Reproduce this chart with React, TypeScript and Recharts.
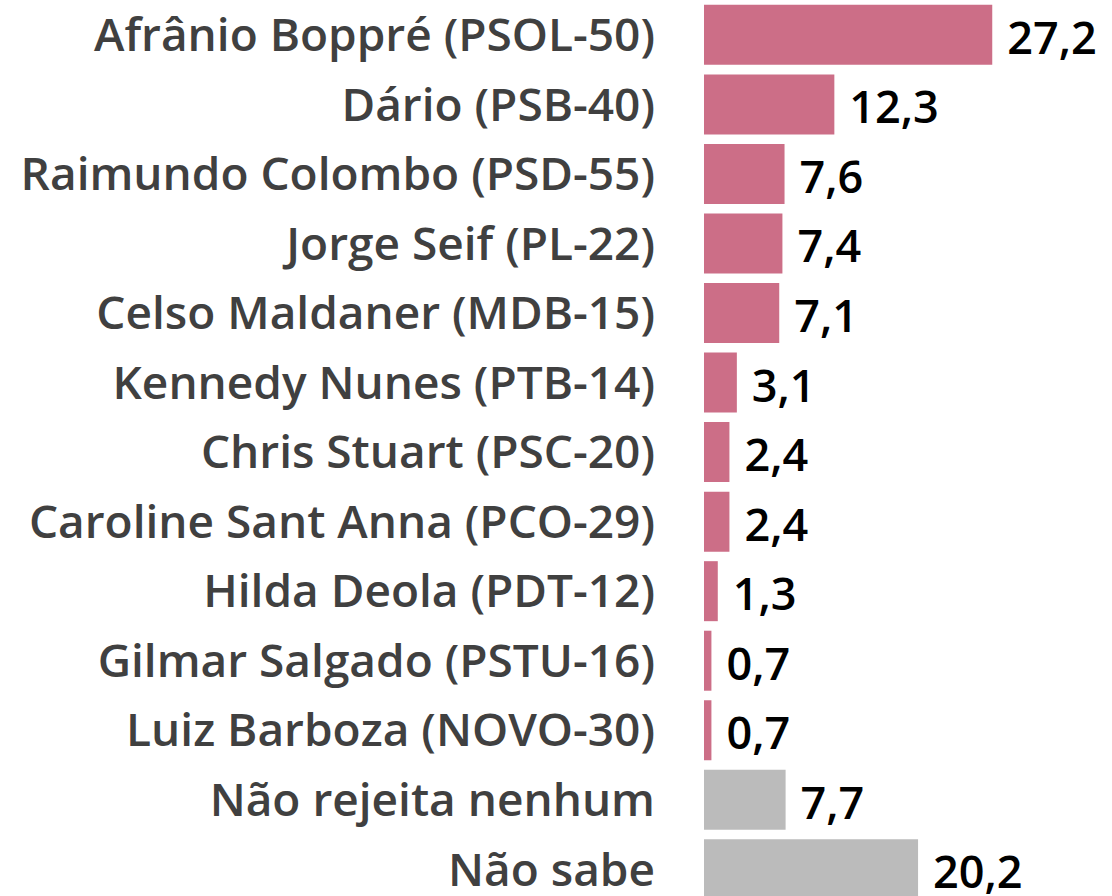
// Rejeição de candidatos: barras horizontais com rótulos à direita.
import { Bar, BarChart, Cell, LabelList, XAxis, YAxis } from "recharts";

const CANDIDATES = [
  "Afrânio Boppré (PSOL-50)",
  "Dário (PSB-40)",
  "Raimundo Colombo (PSD-55)",
  "Jorge Seif (PL-22)",
  "Celso Maldaner (MDB-15)",
  "Kennedy Nunes (PTB-14)",
  "Chris Stuart (PSC-20)",
  "Caroline Sant Anna (PCO-29)",
  "Hilda Deola (PDT-12)",
  "Gilmar Salgado (PSTU-16)",
  "Luiz Barboza (NOVO-30)",
  "Não rejeita nenhum",
  "Não sabe",
];
const VALUES = [27.2, 12.3, 7.6, 7.4, 7.1, 3.1, 2.4, 2.4, 1.3, 0.7, 0.7, 7.7, 20.2];
const OTHER = ["Não rejeita nenhum", "Não sabe"];

const PINK = "#cc6e87";
const GREY = "#bbbbbb";
const FONT = "'Open Sans', 'Noto Sans', sans-serif";

const data = CANDIDATES.map((name, i) => ({ name, value: VALUES[i] }));

export default function App() {
  return (
    <div style={{ position: "absolute", left: 0, top: 0, width: 1112, height: 896, overflow: "hidden", background: "#fff" }}>
      <BarChart
        width={1112}
        height={904}
        data={data}
        layout="vertical"
        margin={{ top: 0, right: 0, bottom: 0, left: 0 }}
        barCategoryGap="7%"
      >
        <XAxis type="number" domain={[0, 38.5]} hide />
        <YAxis
          type="category"
          dataKey="name"
          width={704}
          axisLine={false}
          tickLine={false}
          tickSize={0}
          tickMargin={49}
          interval={0}
          tick={{ fill: "#404040", fontSize: 46, fontWeight: 600, fontFamily: FONT }}
        />
        <Bar dataKey="value" isAnimationActive={false}>
          {data.map((d) => (
            <Cell key={d.name} fill={OTHER.includes(d.name) ? GREY : PINK} />
          ))}
          <LabelList
            dataKey="value"
            position="right"
            offset={15}
            dy={3}
            formatter={(v: number) => String(v).replace(".", ",")}
            style={{ fill: "#000", fontSize: 45, fontWeight: 600, fontFamily: FONT }}
          />
        </Bar>
      </BarChart>
    </div>
  );
}
